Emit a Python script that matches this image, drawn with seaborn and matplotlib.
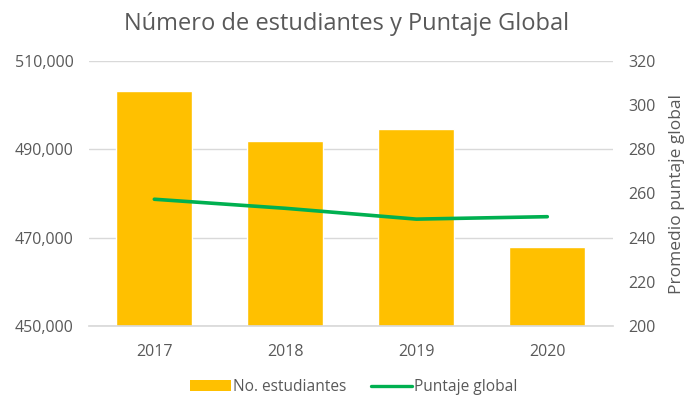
import matplotlib
matplotlib.use("Agg")
import matplotlib.pyplot as plt
import seaborn as sns
import pandas as pd
from matplotlib.ticker import FuncFormatter
from matplotlib.patches import Patch
from matplotlib.lines import Line2D

# Data
years = ["2017", "2018", "2019", "2020"]
estudiantes = [503100, 492000, 494500, 468000]
puntaje = [257.4, 253.3, 248.4, 249.5]

df = pd.DataFrame({"Año": years, "Estudiantes": estudiantes, "Puntaje": puntaje})

sns.set_theme(style="white")
plt.rcParams["font.family"] = ["Open Sans", "DejaVu Sans"]

gray = "#595959"
bar_color = "#FFC000"
line_color = "#00B050"

fig = plt.figure(figsize=(6.94, 4.0), dpi=100)
ax = fig.add_axes([0.128, 0.185, 0.755, 0.6625])

sns.barplot(data=df, x="Año", y="Estudiantes", color=bar_color, width=0.58,
            saturation=1, ax=ax, zorder=2)
ax.set_ylim(450000, 510000)
ax.set_yticks([450000, 470000, 490000, 510000])
ax.yaxis.set_major_formatter(FuncFormatter(lambda v, p: f"{int(v):,}"))
ax.grid(axis="y", color="#D9D9D9", linewidth=1, zorder=0)
ax.set_axisbelow(True)
ax.set_xlabel("")
ax.set_ylabel("")
ax.set_xlim(-0.5, 3.5)

ax2 = ax.twinx()
sns.lineplot(data=df, x="Año", y="Puntaje", color=line_color, linewidth=2.6,
             ax=ax2, zorder=3)
ax2.set_ylim(200, 320)
ax2.set_yticks(range(200, 321, 20))
ax2.set_ylabel("Promedio puntaje global", color=gray, fontsize=12.5, labelpad=10)

for a in (ax, ax2):
    for s in a.spines.values():
        s.set_visible(False)
    a.tick_params(axis="both", length=0, colors=gray, labelsize=11.5)
ax.tick_params(axis="y", pad=11)
ax.tick_params(axis="x", pad=13)
ax2.tick_params(axis="y", pad=11)
ax.spines["bottom"].set_visible(True)
ax.spines["bottom"].set_color("#D9D9D9")

fig.suptitle("Número de estudiantes y Puntaje Global", x=0.5, y=0.97,
             fontsize=17, color=gray)

handles = [Patch(facecolor=bar_color, edgecolor="none"),
           Line2D([0], [0], color=line_color, linewidth=2.4)]
fig.legend(handles, ["No. estudiantes", "Puntaje global"], loc="center",
           bbox_to_anchor=(0.51, 0.032), ncol=2, frameon=False, fontsize=11.2,
           labelcolor=gray, handlelength=2.6, handletextpad=0.15, columnspacing=1.6)

fig.savefig("out.png", dpi=100)
